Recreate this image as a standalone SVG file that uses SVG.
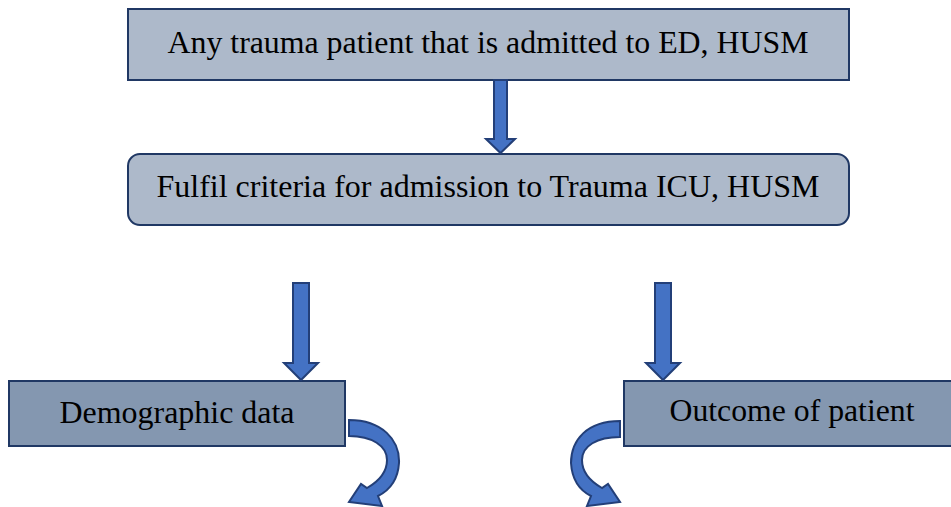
<svg xmlns="http://www.w3.org/2000/svg" width="951" height="507" viewBox="0 0 951 507">
<style>
.box{stroke:#203864;stroke-width:2}
.light{fill:#ADB9CA}
.dark{fill:#8497B0}
.arrow{fill:#4472C4;stroke:#233F78;stroke-width:2;stroke-linejoin:miter}
.t{font-family:'Liberation Serif','DejaVu Serif','Times New Roman',Times,serif;font-size:31px;fill:#000;text-anchor:middle}
</style>
<rect width="951" height="507" fill="#fff"/>
<g id="node-trauma">
<rect class="box light" x="128" y="9" width="721" height="71"/>
<text class="t" x="488" y="53" textLength="641" lengthAdjust="spacingAndGlyphs">Any trauma patient that is admitted to ED, HUSM</text>
</g>
<g id="node-criteria">
<rect class="box light" x="128" y="154" width="721" height="71" rx="12" ry="12"/>
<text class="t" x="488" y="197" textLength="663" lengthAdjust="spacingAndGlyphs">Fulfil criteria for admission to Trauma ICU, HUSM</text>
</g>
<g id="node-demographic">
<rect class="box dark" x="9" y="381" width="336" height="65"/>
<text class="t" x="177" y="423" textLength="235" lengthAdjust="spacingAndGlyphs">Demographic data</text>
</g>
<g id="node-outcome">
<rect class="box dark" x="624" y="381" width="330" height="65"/>
<text class="t" x="792" y="421" textLength="245" lengthAdjust="spacingAndGlyphs">Outcome of patient</text>
</g>
<g id="connectors">
<path class="arrow" d="M494,80 L507,80 L507,139 L515,139 L500.5,153 L486,139 L494,139 Z"/>
<path class="arrow" d="M293,283 L309,283 L309,363 L318,363 L301,380 L284,363 L293,363 Z"/>
<path class="arrow" d="M655,283 L671,283 L671,363 L680,363 L663,380 L646,363 L655,363 Z"/>
<path class="arrow" d="M349,420 C382,420 400,440 399,463 C398,479 390,490 378,496 L382,506 L349,502 L361,484 L367,488 C381,480 387,470 387,460 C387,446 372,436 349,436 Z"/>
<path class="arrow" d="M620,421 C587,421 571,440 571,463 C572,479 579,490 591,496 L587,506 L620,502 L608,484 L602,488 C588,480 582,470 582,460 C582,446 597,437 620,437 Z"/>
</g>
</svg>
